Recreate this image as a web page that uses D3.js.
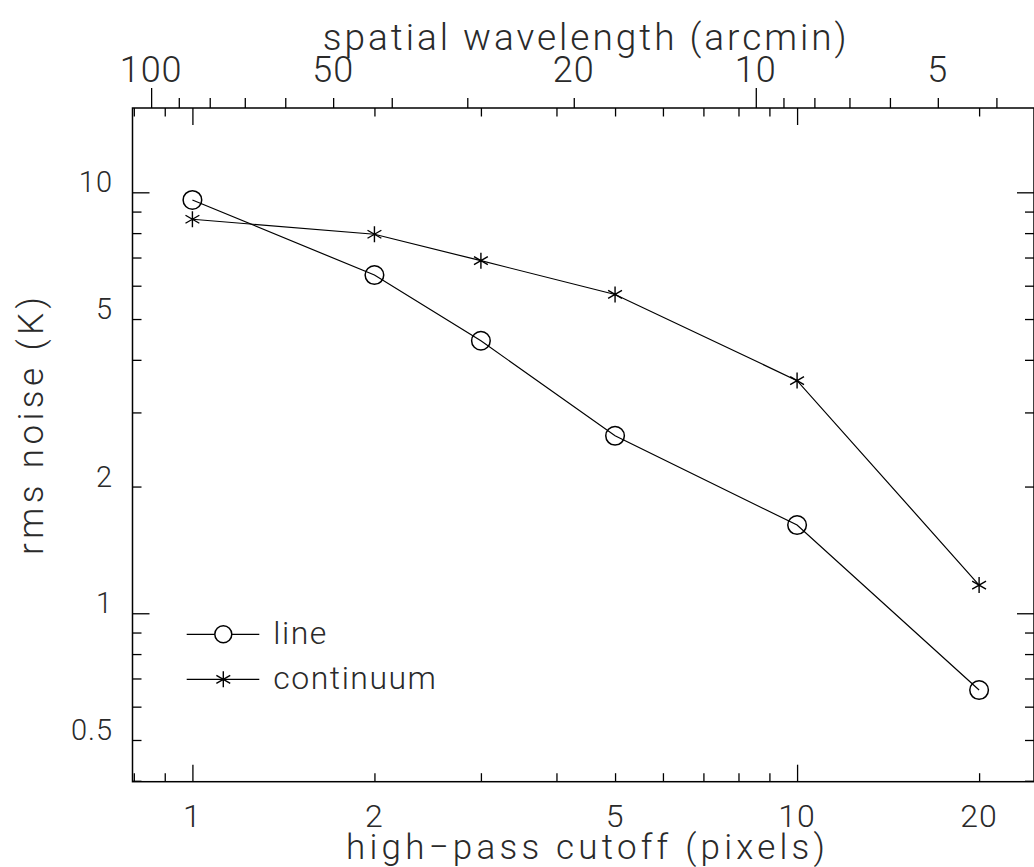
<!DOCTYPE html>
<html>
<head>
<meta charset="utf-8">
<script src="https://cdn.jsdelivr.net/npm/d3@7"></script>
<style>
  body { margin: 0; background: #fff; }
  svg text { font-family: Roboto, "Open Sans", sans-serif; font-weight: 300; fill: #2a2a2a; }
</style>
</head>
<body>
<div id="chart"></div>
<script>
// data
const cutoff = [1, 2, 3, 5, 10, 20];                          // high-pass cutoff (pixels)
const lineNoise = [9.59, 6.36, 4.44, 2.64, 1.62, 0.657];      // rms noise (K), "line"
const contNoise = [8.63, 7.95, 6.88, 5.72, 3.57, 1.167];      // rms noise (K), "continuum"

const xTickLabels = [1, 2, 5, 10, 20];
const yTickLabels = [0.5, 1, 2, 5, 10];
const topTickLabels = [100, 50, 20, 10, 5];
const arcminPerPixel = 85.45;   // spatial wavelength = arcminPerPixel / cutoff

//sizing
const width = 1034, height = 867;
const frame = {left: 132.5, right: 1034, top: 108, bottom: 781.7};

const svg = d3.select("#chart").append("svg")
  .attr("width", width)
  .attr("height", height);

// scales
const xDomain = [0.796, 24.65];
const x = d3.scaleLog().domain(xDomain).range([frame.left, frame.right]);
const y = d3.scaleLog().domain([0.398, 15.86]).range([frame.bottom, frame.top]);
const xTop = d3.scaleLog()
  .domain([arcminPerPixel / xDomain[0], arcminPerPixel / xDomain[1]])
  .range([frame.left, frame.right]);

// tick values
const xTicks = [0.8, 0.9, 1, 2, 3, 4, 5, 6, 7, 8, 9, 10, 20];
const yTicks = [0.4, 0.5, 0.6, 0.7, 0.8, 0.9, 1, 2, 3, 4, 5, 6, 7, 8, 9, 10];
const topTicks = [100, 90, 80, 70, 60, 50, 40, 30, 20, 10, 9, 8, 7, 6, 5, 4];
const isMajor = (v) => Math.abs(Math.log10(v) - Math.round(Math.log10(v))) < 1e-6;

function tickLen(major, minor) {
  return (d) => isMajor(d) ? major : minor;
}

// axes drawn with d3 axis generators, tick length set per tick
function drawAxis(gen, transform, lenFn, sign) {
  const g = svg.append("g").attr("transform", transform)
    .call(gen.tickFormat("").tickSizeOuter(0));
  g.select(".domain").remove();
  g.selectAll(".tick line").each(function(d){
    const l = lenFn(d) * sign;
    const el = d3.select(this);
    if (el.attr("x2") !== null && +el.attr("x2") !== 0) el.attr("x2", l);
    else el.attr("y2", l);
  }).attr("stroke", "#000").attr("stroke-width", 1.3);
  return g;
}

// bottom (inward, upward)
drawAxis(d3.axisBottom(x).tickValues(xTicks),
  `translate(0,${frame.bottom})`, tickLen(17, 8.5), -1);
// top mirrored (inward, downward)
drawAxis(d3.axisTop(x).tickValues(xTicks),
  `translate(0,${frame.top})`, tickLen(17, 8.5), 1);
// top arcmin axis (outward, upward)
drawAxis(d3.axisTop(xTop).tickValues(topTicks),
  `translate(0,${frame.top})`, tickLen(20, 10), -1);
// left (inward, rightward)
drawAxis(d3.axisLeft(y).tickValues(yTicks),
  `translate(${frame.left},0)`, tickLen(17, 9), 1);
// right (inward, leftward)
drawAxis(d3.axisRight(y).tickValues(yTicks),
  `translate(${frame.right},0)`, tickLen(17, 9), -1);

// frame
svg.append("rect")
  .attr("x", frame.left).attr("y", frame.top)
  .attr("width", frame.right - frame.left)
  .attr("height", frame.bottom - frame.top)
  .attr("fill", "none").attr("stroke", "#000").attr("stroke-width", 1.5);

// tick labels
svg.append("g").selectAll("text")
  .data(xTickLabels).enter().append("text")
  .attr("x", (d) => x(d)).attr("y", 827)
  .attr("text-anchor", "middle")
  .style("font-size", "32px")
  .style("letter-spacing", "1px")
  .text((d) => d);

svg.append("g").selectAll("text")
  .data(yTickLabels).enter().append("text")
  .attr("x", 113).attr("y", (d) => y(d))
  .attr("text-anchor", "end")
  .style("font-size", "29px")
  .style("letter-spacing", "1px")
  .text((d) => d);

svg.append("g").selectAll("text")
  .data(topTickLabels).enter().append("text")
  .attr("x", (d) => xTop(d)).attr("y", 82)
  .attr("text-anchor", "middle")
  .style("font-size", "36px")
  .style("letter-spacing", "1px")
  .text((d) => d);

// axis titles
svg.append("text")
  .attr("x", 584.7).attr("y", 50)
  .attr("text-anchor", "middle")
  .attr("textLength", 524).attr("lengthAdjust", "spacing")
  .style("font-size", "37px")
  .text("spatial wavelength (arcmin)");

svg.append("text")
  .attr("x", 585.5).attr("y", 859)
  .attr("text-anchor", "middle")
  .attr("textLength", 479).attr("lengthAdjust", "spacing")
  .style("font-size", "35px")
  .text("high\u2212pass cutoff (pixels)");

svg.append("text")
  .attr("transform", "translate(43,426) rotate(-90)")
  .attr("text-anchor", "middle")
  .attr("textLength", 258).attr("lengthAdjust", "spacing")
  .style("font-size", "35px")
  .text("rms noise (K)");

// lines
const lineGen = d3.line()
  .x((d) => x(d[0]))
  .y((d) => y(d[1]));

const lineData = cutoff.map((c, i) => [c, lineNoise[i]]);
const contData = cutoff.map((c, i) => [c, contNoise[i]]);

[lineData, contData].forEach((s) => {
  svg.append("path")
    .datum(s)
    .attr("d", lineGen)
    .attr("fill", "none")
    .attr("stroke", "#000")
    .attr("stroke-width", 1.2);
});

// markers
const starPath = (() => {
  const r = 8;
  const c = Math.cos(Math.PI / 6) * r, s = Math.sin(Math.PI / 6) * r;
  return `M0,${-r}L0,${r}M${-c},${-s}L${c},${s}M${-c},${s}L${c},${-s}`;
})();

svg.append("g").selectAll("circle")
  .data(lineData).enter().append("circle")
  .attr("cx", (d) => x(d[0])).attr("cy", (d) => y(d[1]))
  .attr("r", 9.3)
  .attr("fill", "none").attr("stroke", "#000").attr("stroke-width", 1.5);

svg.append("g").selectAll("path")
  .data(contData).enter().append("path")
  .attr("transform", (d) => `translate(${x(d[0])},${y(d[1])})`)
  .attr("d", starPath)
  .attr("fill", "none").attr("stroke", "#000").attr("stroke-width", 1.4);

// legend
const legend = svg.append("g");
const legendRows = [
  {label: "line", y: 634.3, mark: "circle"},
  {label: "continuum", y: 679.3, mark: "star"}
];
legendRows.forEach((r) => {
  legend.append("line")
    .attr("x1", 186.7).attr("x2", 259.3)
    .attr("y1", r.y).attr("y2", r.y)
    .attr("stroke", "#000").attr("stroke-width", 1.2);
  if (r.mark === "circle") {
    legend.append("circle")
      .attr("cx", 223.3).attr("cy", r.y).attr("r", 8.5)
      .attr("fill", "#fff").attr("stroke", "#000").attr("stroke-width", 1.5);
  } else {
    legend.append("path")
      .attr("transform", `translate(223.3,${r.y})`)
      .attr("d", starPath)
      .attr("fill", "none").attr("stroke", "#000").attr("stroke-width", 1.4);
  }
  legend.append("text")
    .attr("x", 273.3).attr("y", r.y + 10)
    .style("font-size", "32px")
    .style("letter-spacing", "1.5px")
    .text(r.label);
});
</script>
</body>
</html>
